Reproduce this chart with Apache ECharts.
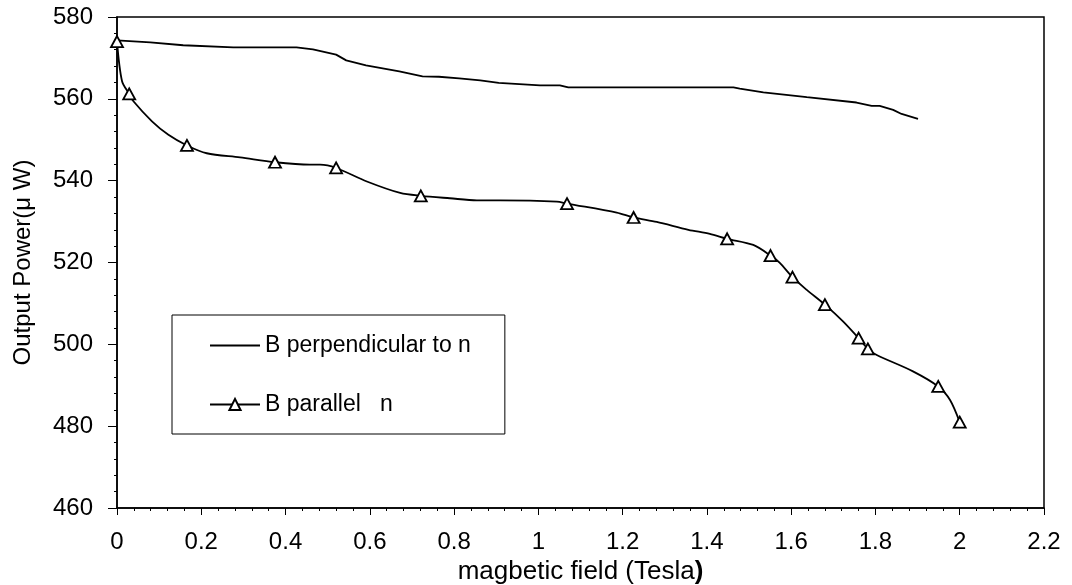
<!DOCTYPE html>
<html>
<head>
<meta charset="utf-8">
<script src="https://cdn.jsdelivr.net/npm/echarts@6/dist/echarts.min.js"></script>
<style>
html,body{margin:0;padding:0;background:#fff;}
#chart{width:1072px;height:585px;}
</style>
</head>
<body>
<div id="chart"></div>
<script>
// Series: B perpendicular to n
var perpX = [0, 0.079, 0.157, 0.276, 0.426, 0.465, 0.52, 0.544, 0.591, 0.67, 0.725, 0.764, 0.812, 0.862, 0.906, 1.004, 1.051, 1.071, 1.463, 1.478, 1.534, 1.637, 1.755, 1.791, 1.81, 1.842, 1.862, 1.901];
var perpY = [574.3, 573.8, 573.1, 572.6, 572.6, 572.1, 570.8, 569.4, 568.2, 566.7, 565.5, 565.4, 565.0, 564.5, 563.9, 563.3, 563.3, 562.8, 562.8, 562.5, 561.6, 560.4, 559.1, 558.3, 558.3, 557.3, 556.3, 555.1];

// Series: B parallel n
var parX = [0, 0.012, 0.029, 0.039, 0.083, 0.122, 0.166, 0.213, 0.292, 0.375, 0.458, 0.482, 0.520, 0.593, 0.672, 0.721, 0.79, 0.854, 0.909, 1.044, 1.068, 1.186, 1.226, 1.281, 1.356, 1.407, 1.448, 1.51, 1.551, 1.573, 1.603, 1.637, 1.680, 1.723, 1.760, 1.782, 1.803, 1.889, 1.949, 1.977, 2.0];
var parY = [574.0, 564.3, 561.2, 559.4, 554.5, 551.2, 548.6, 546.7, 545.7, 544.5, 543.9, 543.9, 543.1, 539.8, 537.0, 536.3, 535.7, 535.2, 535.2, 534.9, 534.4, 532.2, 531.0, 529.9, 528.0, 527.0, 525.8, 524.3, 521.7, 519.9, 516.4, 513.3, 509.7, 505.6, 501.5, 498.9, 497.4, 493.4, 489.7, 486.4, 481.0];
// 1 = point shown with a triangle marker
var parMarker = [1, 0, 1, 0, 0, 0, 1, 0, 0, 1, 0, 0, 1, 0, 0, 1, 0, 0, 0, 0, 1, 0, 1, 0, 0, 0, 1, 0, 1, 0, 1, 0, 1, 0, 1, 1, 0, 0, 1, 0, 1];

var seriesNames = ['B perpendicular to n', 'B parallel   n'];
var xAxisTitle = 'magbetic field (Tesla{b|)}';
var yAxisTitle = 'Output Power(\u03bc W)';

var FONT = '"Liberation Sans", Arial, sans-serif';

var perpData = perpX.map(function (x, i) { return [x, perpY[i]]; });
var parData = parX.map(function (x, i) {
  var item = { value: [x, parY[i]] };
  if (!parMarker[i]) { item.symbol = 'none'; }
  return item;
});

var chart = echarts.init(document.getElementById('chart'), null, { renderer: 'canvas' });
chart.setOption({
  backgroundColor: '#ffffff',
  animation: false,
  textStyle: { fontFamily: FONT, color: '#000' },
  grid: {
    left: 117, right: 28, top: 17, bottom: 77,
    outerBoundsMode: 'none', containLabel: false,
    show: true, borderColor: '#000', borderWidth: 1.5, backgroundColor: 'transparent'
  },
  legend: {
    left: 172, top: 315,
    orient: 'vertical',
    padding: [19, 34, 18, 37],
    borderColor: '#000', borderWidth: 1,
    itemWidth: 50, itemHeight: 14, itemGap: 36,
    textStyle: { fontFamily: FONT, fontSize: 23, color: '#000' },
    data: [
      { name: seriesNames[0], itemStyle: { opacity: 0 } },
      { name: seriesNames[1] }
    ]
  },
  xAxis: {
    type: 'value', min: 0, max: 2.2, interval: 0.2,
    name: xAxisTitle, nameLocation: 'middle', nameGap: 34,
    nameTextStyle: { fontFamily: FONT, fontSize: 26, color: '#000', rich: { b: { fontFamily: FONT, fontSize: 26, fontWeight: 'bold', color: '#000' } } },
    axisLine: { show: true, lineStyle: { color: '#000', width: 1.5 } },
    axisTick: { show: true, length: 7, lineStyle: { color: '#000', width: 1 } },
    minorTick: { show: true, splitNumber: 5, length: 3, lineStyle: { color: '#000', width: 1 } },
    splitLine: { show: false },
    axisLabel: { fontFamily: FONT, fontSize: 24, color: '#000', margin: 22 }
  },
  yAxis: {
    type: 'value', min: 460, max: 580, interval: 20,
    name: yAxisTitle, nameLocation: 'middle', nameGap: 82,
    nameTextStyle: { fontFamily: FONT, fontSize: 24, color: '#000' },
    axisLine: { show: true, lineStyle: { color: '#000', width: 1.5 } },
    axisTick: { show: true, length: 9, lineStyle: { color: '#000', width: 1 } },
    minorTick: { show: true, splitNumber: 5, length: 3, lineStyle: { color: '#000', width: 1 } },
    splitLine: { show: false },
    axisLabel: { fontFamily: FONT, fontSize: 24, color: '#000', margin: 24 }
  },
  series: [
    {
      name: seriesNames[0], type: 'line', data: perpData,
      symbol: 'none', smooth: false,
      lineStyle: { color: '#000', width: 1.8 },
      itemStyle: { color: '#000' }
    },
    {
      name: seriesNames[1], type: 'line', data: parData,
      symbol: 'triangle', symbolSize: [12, 11], smooth: 0.3,
      showAllSymbol: true,
      lineStyle: { color: '#000', width: 1.8 },
      itemStyle: { color: '#fff', borderColor: '#000', borderWidth: 1.8 }
    }
  ]
});
</script>
</body>
</html>
